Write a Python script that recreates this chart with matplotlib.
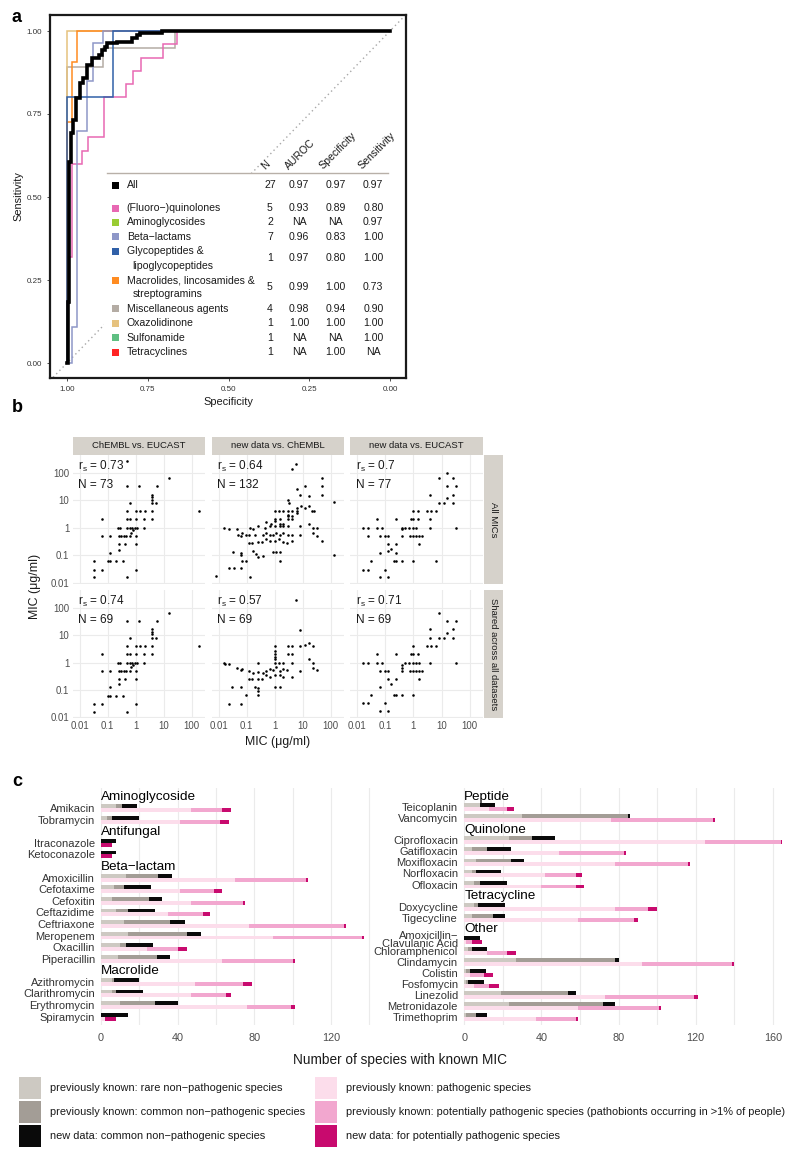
import numpy as np
import matplotlib
matplotlib.use("Agg")
import matplotlib.pyplot as plt
from matplotlib.patches import Rectangle
from matplotlib.ticker import NullLocator, FixedLocator

plt.rcParams['font.family'] = ['Liberation Sans', 'DejaVu Sans']
plt.rcParams['mathtext.fontset'] = 'custom'
plt.rcParams['mathtext.rm'] = 'Liberation Sans'
plt.rcParams['mathtext.it'] = 'Liberation Sans:italic'

# ======================= DATA: panel a (ROC) =======================
roc_all_spec = [1.0, 0.998, 0.994, 0.989, 0.982, 0.972, 0.960, 0.951, 0.937, 0.924, 0.900,
                0.893, 0.882, 0.875, 0.846, 0.800, 0.784, 0.774, 0.707, 0.0]
roc_all_sens = [0.0, 0.185, 0.606, 0.692, 0.732, 0.797, 0.842, 0.858, 0.898, 0.918, 0.928,
                0.943, 0.953, 0.963, 0.968, 0.978, 0.988, 0.993, 1.0, 1.0]
roc_quin_spec = [1.0, 1.0, 0.984, 0.955, 0.934, 0.885, 0.817, 0.795, 0.772, 0.702, 0.659, 0.0]
roc_quin_sens = [0.0, 0.32, 0.60, 0.64, 0.68, 0.80, 0.84, 0.88, 0.92, 0.96, 1.0, 1.0]
roc_beta_spec = [1.0, 0.985, 0.968, 0.937, 0.919, 0.888, 0.0]
roc_beta_sens = [0.0, 0.109, 0.70, 0.85, 0.963, 1.0, 1.0]
roc_glyco_spec = [1.0, 1.0, 0.857, 0.0]
roc_glyco_sens = [0.0, 0.80, 1.0, 1.0]
roc_macro_spec = [1.0, 1.0, 0.985, 0.968, 0.0]
roc_macro_sens = [0.0, 0.727, 0.907, 1.0, 1.0]
roc_misc_spec = [1.0, 1.0, 0.889, 0.666, 0.0]
roc_misc_sens = [0.0, 0.893, 0.948, 1.0, 1.0]
roc_oxa_spec = [1.0, 1.0, 0.0]
roc_oxa_sens = [0.0, 1.0, 1.0]

table_classes = ["All", "(Fluoro−)quinolones", "Aminoglycosides", "Beta−lactams",
                 "Glycopeptides &\nlipoglycopeptides", "Macrolides, lincosamides &\nstreptogramins",
                 "Miscellaneous agents", "Oxazolidinone", "Sulfonamide", "Tetracyclines"]
table_n = [27, 5, 2, 7, 1, 5, 4, 1, 1, 1]
table_auroc = [0.97, 0.93, np.nan, 0.96, 0.97, 0.99, 0.98, 1.00, np.nan, np.nan]
table_spec = [0.97, 0.89, np.nan, 0.83, 0.80, 1.00, 0.94, 1.00, np.nan, 1.00]
table_sens = [0.97, 0.80, 0.97, 1.00, 1.00, 0.73, 0.90, 1.00, 1.00, np.nan]
table_headers = ["N", "AUROC", "Specificity", "Sensitivity"]

# ======================= DATA: panel b (MIC scatter) =======================
b_cols = ["ChEMBL vs. EUCAST", "new data vs. ChEMBL", "new data vs. EUCAST"]
b_rows = ["All MICs", "Shared across all datasets"]
b_rs = [["0.73", "0.64", "0.7"], ["0.74", "0.57", "0.71"]]
b_n = [[73, 132, 77], [69, 69, 69]]
b_ticks = [0.01, 0.1, 1, 10, 100]
b_tick_labels = ["0.01", "0.1", "1", "10", "100"]

chembl_eucast_all = [
    (0.5, 256), (16, 64), (0.5, 32), (1.3, 32), (5.9, 32),
    (4, 16), (4, 13), (4, 10.5), (4, 8), (5.2, 8), (0.61, 8),
    (0.5, 4), (1, 4), (1.47, 4), (2.1, 4), (4, 4),
    (0.063, 2), (0.5, 2), (0.61, 2), (1, 2), (2, 2), (4, 2),
    (0.23, 1), (0.28, 1), (0.5, 1), (0.61, 1), (0.74, 1), (0.92, 1), (1.1, 1), (2, 1),
    (0.8, 0.8), (0.7, 0.66),
    (0.063, 0.5), (0.126, 0.5), (0.25, 0.5), (0.3, 0.5), (0.37, 0.5), (0.44, 0.5), (0.61, 0.5), (1, 0.5),
    (0.25, 0.25), (0.4, 0.25), (1, 0.25), (0.25, 0.16), (0.126, 0.125),
    (0.032, 0.06), (0.1, 0.06), (0.126, 0.06), (0.2, 0.06), (0.35, 0.06),
    (0.032, 0.03), (0.063, 0.03), (1, 0.03), (0.032, 0.016), (0.5, 0.016), (190, 4)]
chembl_eucast_shared = [
    (16, 64), (0.5, 32), (1.3, 32), (5.9, 32),
    (4, 16), (4, 13), (4, 10.5), (4, 8), (5.2, 8), (0.61, 8),
    (0.5, 4), (1, 4), (1.47, 4), (2.1, 4), (4, 4),
    (0.063, 2), (0.5, 2), (0.61, 2), (1, 2), (2, 2), (4, 2),
    (0.23, 1), (0.28, 1), (0.5, 1), (0.61, 1), (0.74, 1), (0.92, 1), (1.1, 1), (2, 1),
    (0.8, 0.8), (0.7, 0.66),
    (0.063, 0.5), (0.126, 0.5), (0.25, 0.5), (0.3, 0.5), (0.37, 0.5), (0.44, 0.5), (0.61, 0.5), (1, 0.5),
    (0.25, 0.25), (0.4, 0.25), (1, 0.25), (0.25, 0.16), (0.126, 0.125),
    (0.1, 0.06), (0.126, 0.06), (0.2, 0.06), (0.35, 0.06),
    (0.032, 0.03), (0.063, 0.03), (1, 0.03), (0.032, 0.016), (0.5, 0.016), (190, 4)]
new_chembl_all = [
    (5.7, 200), (4, 133), (48, 64), (48, 32), (48, 16), (12, 32), (6, 25), (8, 16), (16, 14.6),
    (126, 8.4), (3, 10), (3.3, 8), (16, 6.4), (12, 5.3), (8.4, 6), (6, 5.3),
    (1, 4), (1.43, 4), (2, 4), (2.86, 4), (4, 4), (6, 4), (21, 4), (25, 4),
    (6, 3.5), (2.86, 3), (2.86, 2.6), (4, 2.6), (1, 2), (1.5, 2), (2.86, 2), (4, 2),
    (0.5, 1.6), (0.76, 1.43), (1, 1.74), (1.5, 1.43), (2, 1.43),
    (0.016, 1), (0.024, 0.87), (0.25, 1.15), (0.44, 1), (0.66, 1.15), (1, 1.15), (1.5, 1.15),
    (2, 1.15), (2.86, 1.15), (8, 1.15), (16, 1.43), (24, 1), (32, 1),
    (0.045, 0.87), (0.126, 1), (0.166, 0.87),
    (0.048, 0.57), (0.063, 0.5), (0.07, 0.63), (0.095, 0.53), (0.12, 0.57), (0.19, 0.57), (0.38, 0.57),
    (0.5, 0.66), (0.66, 0.57), (0.87, 0.57), (1.15, 0.63), (1.5, 0.57), (2, 0.66), (3, 0.57), (4, 0.57),
    (8, 0.57), (24, 0.63), (32, 0.5),
    (0.12, 0.27), (0.16, 0.27), (0.25, 0.3), (0.36, 0.3), (0.5, 0.38), (0.66, 0.33), (1, 0.33),
    (1.43, 0.38), (2, 0.3), (2.8, 0.29), (4, 0.33), (48, 0.33),
    (0.032, 0.13), (0.063, 0.126), (0.063, 0.1), (0.066, 0.063), (0.095, 0.063), (0.166, 0.145),
    (0.22, 0.11), (0.25, 0.09), (0.38, 0.095), (0.83, 0.13), (1.15, 0.13), (1.6, 0.13), (1.5, 0.063),
    (0.023, 0.034), (0.034, 0.034), (0.063, 0.034), (0.126, 0.017), (0.008, 0.018), (126, 0.1)]
new_chembl_shared = [
    (5.7, 186), (8, 15.5), (2.86, 4), (4, 4), (8, 4), (12, 4.2), (16, 5.1), (24, 4), (2.86, 2), (4, 2),
    (16, 1.4), (24, 1), (24, 0.64), (32, 0.53), (8, 0.5),
    (1, 4), (1, 2.6), (1, 2), (1, 1.6), (1, 1.3),
    (0.016, 1), (0.017, 0.87), (0.024, 0.87), (0.25, 1), (1, 1), (1.43, 1), (2, 1), (4, 1),
    (0.045, 0.64), (0.063, 0.53), (0.07, 0.6), (0.12, 0.5), (0.166, 0.4), (0.25, 0.46), (0.38, 0.43),
    (0.5, 0.5), (0.66, 0.6), (0.87, 0.53), (1.15, 0.7), (1.5, 0.5), (2, 0.6), (2.8, 0.53),
    (0.12, 0.25), (0.16, 0.25), (0.25, 0.25), (0.36, 0.25), (0.5, 0.35), (0.66, 0.3), (1, 0.35),
    (1.5, 0.35), (2, 0.3), (4, 0.3),
    (0.03, 0.126), (0.063, 0.126), (0.19, 0.13), (0.25, 0.116), (1, 0.13), (1.6, 0.13),
    (0.25, 0.095), (0.095, 0.067), (0.25, 0.067), (0.024, 0.032), (0.063, 0.032)]
new_eucast_all = [
    (16, 100), (8.2, 64), (25, 64), (16, 32), (32, 32), (4, 16), (25, 16), (16, 12), (8, 8), (12, 8), (25, 8),
    (1, 4), (1.43, 4), (3.1, 4), (4.3, 4), (6.2, 4),
    (0.05, 2), (0.25, 2), (0.82, 2), (1, 2), (1.43, 2), (4, 2),
    (0.016, 1), (0.025, 1), (0.05, 1), (0.078, 1), (0.39, 1), (0.52, 1), (0.72, 1), (0.95, 1), (1.25, 1),
    (4, 1), (32, 1), (0.39, 0.87),
    (0.025, 0.5), (0.063, 0.5), (0.098, 0.5), (0.13, 0.5), (0.39, 0.5), (0.78, 0.5), (1, 0.5),
    (1.25, 0.5), (1.56, 0.5), (2.05, 0.5),
    (0.13, 0.25), (0.25, 0.25), (1.56, 0.25), (0.063, 0.125), (0.25, 0.125), (0.13, 0.145), (0.16, 0.166),
    (0.032, 0.06), (0.2, 0.06), (0.25, 0.06), (0.39, 0.06), (1, 0.06), (6.2, 0.06),
    (0.016, 0.03), (0.025, 0.03), (0.098, 0.03), (0.063, 0.016), (0.126, 0.016)]
new_eucast_shared = [
    (8.2, 64), (16, 32), (32, 32), (4, 16), (25, 16), (16, 12), (4, 8), (8, 8), (12, 8), (25, 8),
    (1, 4), (3.1, 4), (4.3, 4), (6.2, 4),
    (0.05, 2), (0.25, 2), (0.82, 2), (1, 2), (1.43, 2),
    (0.016, 1), (0.025, 1), (0.05, 1), (0.078, 1), (0.52, 1), (0.72, 1), (1, 1), (1.25, 1), (1.64, 1),
    (4, 1), (32, 1), (0.39, 0.8), (0.39, 0.64),
    (0.063, 0.5), (0.098, 0.5), (0.13, 0.5), (0.39, 0.5), (0.78, 0.5), (1, 0.5), (1.25, 0.5),
    (1.56, 0.5), (2.05, 0.5),
    (0.13, 0.25), (0.25, 0.25), (1.56, 0.25), (0.063, 0.126), (0.16, 0.16),
    (0.032, 0.066), (0.2, 0.066), (0.25, 0.066), (0.39, 0.066), (1, 0.066),
    (0.016, 0.033), (0.025, 0.033), (0.098, 0.033), (0.063, 0.017), (0.126, 0.017)]

# ======================= DATA: panel c (bars) =======================
c_left_groups = ["Aminoglycoside", "Antifungal", "Beta−lactam", "Macrolide"]
c_left_group_sizes = [2, 2, 8, 4]
c_left_drugs = ["Amikacin", "Tobramycin", "Itraconazole", "Ketoconazole", "Amoxicillin", "Cefotaxime",
                "Cefoxitin", "Ceftazidime", "Ceftriaxone", "Meropenem", "Oxacillin", "Piperacillin",
                "Azithromycin", "Clarithromycin", "Erythromycin", "Spiramycin"]
c_left_rare = [8, 3, 0, 0, 13, 7, 6, 8, 12, 14, 10, 9, 6, 6, 10, 0]
c_left_common = [3, 3, 0, 0, 17, 5, 19, 6, 24, 31, 3, 20, 1, 2, 18, 0]
c_left_new_np = [8, 14, 8, 8, 7, 14, 7, 14, 8, 7, 14, 7, 13, 14, 12, 14]
c_left_path = [47, 41, 0, 0, 70, 41, 47, 35, 77, 90, 24, 63, 49, 47, 76, 2]
c_left_potpath = [16, 21, 0, 0, 37, 18, 27, 18, 50, 46, 16, 37, 25, 18, 23, 0]
c_left_new_p = [5, 5, 6, 6, 1, 4, 1, 4, 1, 1, 5, 1, 5, 3, 2, 6]

c_right_groups = ["Peptide", "Quinolone", "Tetracycline", "Other"]
c_right_group_sizes = [2, 5, 2, 8]
c_right_drugs = ["Teicoplanin", "Vancomycin", "Ciprofloxacin", "Gatifloxacin", "Moxifloxacin",
                 "Norfloxacin", "Ofloxacin", "Doxycycline", "Tigecycline", "Amoxicillin−\nClavulanic Acid",
                 "Chloramphenicol", "Clindamycin", "Colistin", "Fosfomycin", "Linezolid",
                 "Metronidazole", "Trimethoprim"]
c_right_rare = [8, 30, 23, 4, 6, 4, 5, 5, 4, 0, 2, 27, 1, 1, 19, 23, 1]
c_right_common = [0, 55, 12, 8, 18, 2, 3, 2, 11, 0, 2, 51, 2, 1, 35, 49, 5]
c_right_new_np = [8, 1, 12, 12, 7, 13, 14, 14, 6, 8, 8, 2, 8, 8, 4, 6, 6]
c_right_path = [13, 76, 125, 49, 78, 42, 40, 78, 59, 1, 12, 92, 3, 5, 73, 59, 37]
c_right_potpath = [9, 53, 39, 34, 38, 16, 18, 17, 29, 3, 10, 47, 7, 8, 46, 42, 21]
c_right_new_p = [4, 1, 1, 1, 1, 3, 4, 5, 2, 5, 5, 1, 5, 5, 2, 1, 1]

legend_labels = ["previously known: rare non−pathogenic species",
                 "previously known: common non−pathogenic species",
                 "new data: common non−pathogenic species",
                 "previously known: pathogenic species",
                 "previously known: potentially pathogenic species (pathobionts occurring in >1% of people)",
                 "new data: for potentially pathogenic species"]

# ======================= STYLES =======================
class_colors = ["#000000", "#E868B3", "#99CC33", "#8E97C8", "#3060A8", "#FF8C21",
                "#B4ACA4", "#E6C27E", "#5FBF82", "#FF2424"]
seg_colors = ["#CDC9C2", "#A39D96", "#0A0A0A", "#FCDDEB", "#F2A7CF", "#C80A6E"]
TXT = "#1A1A1A"
TICK = "#4D4D4D"
GRID = "#EBEBEB"
STRIP = "#D6D2CB"

W, H = 800, 1158
fig = plt.figure(figsize=(W / 100, H / 100), dpi=100)


def add_ax(l, t, r, b, **kw):
    return fig.add_axes([l / W, 1 - b / H, (r - l) / W, (b - t) / H], **kw)


ov = fig.add_axes([0, 0, 1, 1], zorder=10)
ov.set_xlim(0, W)
ov.set_ylim(H, 0)
ov.axis('off')
ov.patch.set_alpha(0)

# ======================= PANEL a =======================
axa = add_ax(50, 15, 406, 378)


def a_x(px):
    return 1 - (px - 67) / 323.0


def a_y(py):
    return 1 - (py - 31) / 332.0


axa.set_xlim(a_x(50), a_x(406))
axa.set_ylim(a_y(378), a_y(15))
axa.axline((1, 0), (0, 1), color="#A8A8A8", lw=1.0, ls=(0, (1, 2.3)), zorder=1)
axa.add_patch(Rectangle((a_x(104), a_y(385)), a_x(394) - a_x(104), a_y(173) - a_y(385),
                        fc='white', ec='none', zorder=1.5))
curves = [(roc_misc_spec, roc_misc_sens, class_colors[6], 1.1),
          (roc_quin_spec, roc_quin_sens, class_colors[1], 1.1),
          (roc_oxa_spec, roc_oxa_sens, class_colors[7], 1.1),
          (roc_macro_spec, roc_macro_sens, class_colors[5], 1.1),
          (roc_beta_spec, roc_beta_sens, class_colors[3], 1.1),
          (roc_glyco_spec, roc_glyco_sens, class_colors[4], 1.1),
          (roc_all_spec, roc_all_sens, class_colors[0], 2.6)]
for i, (sx, sy, col, lw) in enumerate(curves):
    axa.step(sx, sy, where='post', color=col, lw=lw, zorder=2 + i, solid_joinstyle='miter')
ticks_a = [1.0, 0.75, 0.5, 0.25, 0.0]
axa.set_xticks(ticks_a)
axa.set_xticklabels(["%.2f" % t for t in ticks_a])
axa.set_yticks(ticks_a)
axa.set_yticklabels(["%.2f" % t for t in ticks_a])
axa.tick_params(direction='out', length=2.5, width=0.6, labelsize=5.8, pad=3,
                colors='#333333')
for sp in axa.spines.values():
    sp.set_linewidth(1.6)
    sp.set_color('#1A1A1A')
ov.text(228, 402, "Specificity", ha='center', va='center', fontsize=7.9, color=TXT)
ov.text(18, 196.5, "Sensitivity", ha='center', va='center', rotation=90, fontsize=7.9, color=TXT)

# table
ov.plot([107, 388], [173, 173], color="#B8B0A8", lw=1.0)
for hx, lab in zip([265, 289, 323, 362], table_headers):
    ov.text(hx, 170, lab, rotation=45, rotation_mode='anchor', ha='left', va='baseline',
            fontsize=7.6, color=TXT)
col_x = [270, 299.3, 335.7, 373.3]
line_idx = 0.0
for i, name in enumerate(table_classes):
    lines = name.split("\n")
    y0 = 185 + line_idx * 14.4
    ov.add_patch(Rectangle((111.5, y0 - 3.5), 7, 7, fc=class_colors[i], ec='none'))
    for k, ln in enumerate(lines):
        ov.text(126.7 + (6 if k > 0 else 0), y0 + k * 14.4, ln, ha='left', va='center',
                fontsize=7.6, color=TXT)
    yv = y0 + (len(lines) - 1) * 14.4 / 2.0
    vals = [str(table_n[i])] + ["NA" if np.isnan(v) else "%.2f" % v
                                 for v in (table_auroc[i], table_spec[i], table_sens[i])]
    for cx, v in zip(col_x, vals):
        ov.text(cx, yv, v, ha='center', va='center', fontsize=7.6, color=TXT)
    line_idx += len(lines) + (0.6 if i == 0 else 0)

# ======================= PANEL b =======================
col_l = [72.7, 211.7, 350.0]
col_r = [205.0, 344.3, 483.3]
row_t = [455.0, 590.0]
row_b = [583.5, 718.0]
b_data = [[chembl_eucast_all, new_chembl_all, new_eucast_all],
          [chembl_eucast_shared, new_chembl_shared, new_eucast_shared]]
for r in range(2):
    for c in range(3):
        ax = add_ax(col_l[c], row_t[r], col_r[c], row_b[r])
        ax.set_xscale('log')
        ax.set_yscale('log')
        ax.set_xlim(10 ** -2.25, 10 ** 2.48)
        ax.set_ylim(10 ** -2.02, 10 ** 2.64)
        pts = np.array(b_data[r][c])
        ax.scatter(pts[:, 0], pts[:, 1], s=3.4, color='black', linewidths=0, zorder=3)
        ax.xaxis.set_major_locator(FixedLocator(b_ticks))
        ax.yaxis.set_major_locator(FixedLocator(b_ticks))
        ax.xaxis.set_minor_locator(NullLocator())
        ax.yaxis.set_minor_locator(NullLocator())
        ax.grid(True, which='major', color=GRID, lw=0.8)
        ax.set_axisbelow(True)
        for sp in ax.spines.values():
            sp.set_visible(False)
        ax.tick_params(length=0, labelsize=6.9, colors=TICK, pad=2.5)
        if c == 0:
            ax.set_yticklabels(b_tick_labels)
        else:
            ax.set_yticklabels([])
        if r == 1:
            ax.set_xticklabels(b_tick_labels)
        else:
            ax.set_xticklabels([])
        ov.text(col_l[c] + 5.5, row_t[r] + 11.8, r'$\mathregular{r_s}$ = ' + b_rs[r][c],
                ha='left', va='center', fontsize=8.5, color=TXT)
        ov.text(col_l[c] + 5.5, row_t[r] + 29.8, "N = %d" % b_n[r][c],
                ha='left', va='center', fontsize=8.5, color=TXT)
for c in range(3):
    ov.add_patch(Rectangle((col_l[c], 436.7), col_r[c] - col_l[c], 18.3, fc=STRIP, ec='none'))
    ov.text((col_l[c] + col_r[c]) / 2, 445.9, b_cols[c], ha='center', va='center',
            fontsize=6.8, color=TXT)
for r in range(2):
    ov.add_patch(Rectangle((484.0, row_t[r]), 18.7, row_b[r] - row_t[r], fc=STRIP, ec='none'))
    ov.text(493.3, (row_t[r] + row_b[r]) / 2, b_rows[r], ha='center', va='center',
            rotation=270, fontsize=6.8, color=TXT)
ov.text(35, 586.5, "MIC (μg/ml)", ha='center', va='center', rotation=90, fontsize=8.9, color=TXT)
ov.text(278, 742, "MIC (μg/ml)", ha='center', va='center', fontsize=8.9, color=TXT)

# ======================= PANEL c =======================


def draw_c(ax, groups, sizes, drugs, segs, xlim, major, minor, ax_h_px):
    slots = []
    headers = []
    s = 0
    for g, n in zip(groups, sizes):
        headers.append((s, g))
        s += 1
        for _ in range(n):
            slots.append(s)
            s += 1
    top_m, bot_m = 0.74, 0.72
    ax.set_ylim(s - 1 + bot_m, -top_m)
    ax.set_xlim(*xlim)
    slot_px = ax_h_px / (s - 1 + bot_m + top_m)
    h = 3.9 / slot_px
    off = 1.95 / slot_px
    y_top = np.array(slots) - off
    y_bot = np.array(slots) + off
    left = np.zeros(len(drugs))
    for k in range(3):
        ax.barh(y_top, segs[k], left=left, height=h, color=seg_colors[k], lw=0, zorder=3)
        left = left + np.array(segs[k])
    left = np.zeros(len(drugs))
    for k in range(3, 6):
        ax.barh(y_bot, segs[k], left=left, height=h, color=seg_colors[k], lw=0, zorder=3)
        left = left + np.array(segs[k])
    for y, g in headers:
        ax.text(0, y + 0.05, g, ha='left', va='center', fontsize=9.7, color='black', zorder=4)
    ax.set_yticks(slots)
    ax.set_yticklabels(drugs)
    for lab in ax.get_yticklabels():
        lab.set_linespacing(0.78)
    ax.set_xticks(major)
    ax.set_xticks(minor, minor=True)
    ax.grid(True, axis='x', which='both', color=GRID, lw=0.8)
    ax.set_axisbelow(True)
    for sp in ax.spines.values():
        sp.set_visible(False)
    ax.tick_params(axis='both', which='both', length=0)
    ax.tick_params(axis='y', labelsize=8, colors='#333333', pad=2.2)
    ax.tick_params(axis='x', labelsize=7.8, colors=TICK, pad=6)


axcl = add_ax(98, 788, 377, 1025)
draw_c(axcl, c_left_groups, c_left_group_sizes, c_left_drugs,
       [c_left_rare, c_left_common, c_left_new_np, c_left_path, c_left_potpath, c_left_new_p],
       (-1.56, 144), [0, 40, 80, 120], [20, 60, 100, 140], 237)
axcr = add_ax(461, 788, 785, 1025)
draw_c(axcr, c_right_groups, c_right_group_sizes, c_right_drugs,
       [c_right_rare, c_right_common, c_right_new_np, c_right_path, c_right_potpath, c_right_new_p],
       (-1.71, 166.3), [0, 40, 80, 120, 160], [20, 60, 100, 140], 237)
ov.text(400, 1060, "Number of species with known MIC", ha='center', va='center',
        fontsize=9.8, color=TXT)

# legend
leg_x = [19, 315]
leg_tx = [50, 346]
leg_y = [1077, 1101, 1125]
for i, lab in enumerate(legend_labels):
    cc, rr = i // 3, i % 3
    ov.add_patch(Rectangle((leg_x[cc], leg_y[rr]), 22, 22, fc=seg_colors[i], ec='none'))
    ov.text(leg_tx[cc], leg_y[rr] + 11, lab, ha='left', va='center', fontsize=7.9, color=TXT)

# panel letters
for letter, (px, py) in zip("abc", [(17, 17), (17, 408), (17, 781)]):
    ov.text(px, py, letter, ha='center', va='center', fontsize=13, fontweight='bold', color='black')

fig.savefig("out.png", dpi=100)
